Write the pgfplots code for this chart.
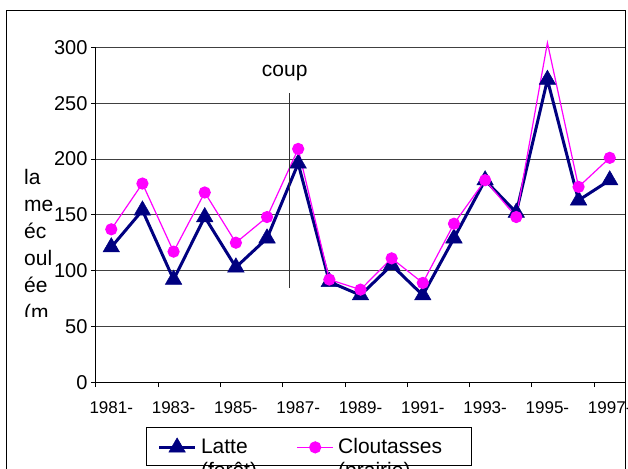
\documentclass[border=0pt]{standalone}
\usepackage{pgfplots}
\pgfplotsset{compat=1.18}
\usepackage{fontspec}
\setmainfont{Liberation Sans}
\definecolor{navy}{RGB}{0,0,128}
\definecolor{mag}{RGB}{255,0,255}
\begin{document}
\begin{tikzpicture}[x=1pt,y=1pt]
\path[use as bounding box] (-95.7,-85.7) rectangle (532.3,382.3);
\draw[line width=1pt] (-88.7,-100) -- (-88.7,371.3) -- (529.8,371.3) -- (529.8,-100);
\begin{axis}[
  at={(0,0)}, anchor=south west, scale only axis,
  width=529.6pt, height=335pt,
  xmin=-0.5, xmax=16.5, ymin=0, ymax=300,
  clip=false,
  axis lines*=left,
  axis line style={black, line width=0.8pt},
  ytick={0,50,...,300},
  ymajorgrids,
  grid style={black!75, line width=0.8pt},
  xtick={-0.5,1.5,...,15.5},
  xticklabels={},
  extra x ticks={0,2,...,16},
  extra x tick labels={1981-,1983-,1985-,1987-,1989-,1991-,1993-,1995-,1997-},
  extra x tick style={major tick length=0pt, grid=none},
  tick align=outside,
  major tick length=4.7pt,
  tick style={black, line width=0.8pt},
  /pgf/number format/assume math mode=true,
  yticklabel style={font=\fontsize{20}{24}\selectfont},
  xticklabel style={font=\fontsize{17}{20}\selectfont, yshift=-16pt},
  legend style={at={(0.0950,-0.1323)}, anchor=north west, draw=black,
    line width=0.8pt, legend columns=2,
    inner xsep=11.2pt, inner ysep=9.8pt,
    nodes={inner sep=0pt},
    font=\fontsize{21}{24}\selectfont,
    /tikz/every odd column/.append style={column sep=4.4pt},
    /tikz/every even column/.append style={column sep=39.6pt}},
  legend cell align=left,
  legend image code/.code={\draw[#1, mark=none] (0pt,-1.4pt) -- (36pt,-1.4pt);
    \draw[#1, mark indices={1}] plot coordinates {(18pt,-1.4pt)};},
]
\addplot[navy, line width=3pt, mark=triangle*, mark size=9.5pt, mark options={solid, line width=0.5pt, fill=navy}]
  coordinates {(0,121) (1,154) (2,92) (3,148) (4,103) (5,129) (6,196) (7,90) (8,78) (9,105) (10,78) (11,129) (12,181) (13,152) (14,271) (15,163) (16,181)};
\addlegendentry{\begin{tabular}[t]{@{}l@{}}Latte\\(forêt)\end{tabular}}
\addplot[mag, line width=1.2pt, mark=*, mark size=5.5pt, mark options={solid, fill=mag, draw=mag},
  mark indices={1,2,3,4,5,6,7,8,9,10,11,12,13,14,16,17}]
  coordinates {(0,137) (1,178) (2,117) (3,170) (4,125) (5,148) (6,209) (7,92) (8,83) (9,111) (10,89) (11,142) (12,181) (13,148) (14,304) (15,175) (16,201)};
\addlegendentry{\begin{tabular}[t]{@{}l@{\hspace{18.3pt}}}Cloutasses\\(prairie)\end{tabular}}
\draw[black!80, line width=1pt] (axis cs:5.715,259) -- (axis cs:5.715,84.4);
\node[anchor=base west, inner sep=0pt, font=\fontsize{21}{24}\selectfont] at (axis cs:4.83,273.7) {coup};
\end{axis}
\begin{scope}
\clip (-95.7,65.3) rectangle (-40,382.3);
\node[anchor=base west, inner sep=0pt, font=\fontsize{21}{27}\selectfont] at (-71.7,197.3)
  {\begin{tabular}[t]{@{}l@{}}la\\me\\éc\\oul\\ée\\(m\end{tabular}};
\end{scope}
\end{tikzpicture}
\end{document}
